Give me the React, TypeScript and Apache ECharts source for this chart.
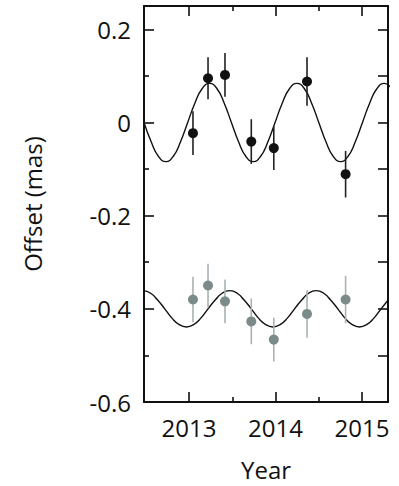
import React, { useEffect, useRef } from 'react';
import * as echarts from 'echarts';

// Observation epochs (years)
const epochs = [2013.046, 2013.22, 2013.416, 2013.72, 2013.98, 2014.364, 2014.81];
// Upper (black) series offsets and 1-sigma errors (mas)
const blackValues = [-0.023, 0.095, 0.102, -0.041, -0.055, 0.088, -0.111];
const blackErrors = [0.047, 0.045, 0.047, 0.048, 0.047, 0.052, 0.05];
// Lower (gray) series offsets and errors (mas)
const grayValues = [-0.38, -0.35, -0.384, -0.427, -0.466, -0.411, -0.38];
const grayErrors = [0.049, 0.047, 0.047, 0.049, 0.047, 0.051, 0.051];

// Model curves
const blackCurveX = [
  2012.48, 2012.564, 2012.648, 2012.733, 2012.817, 2012.901, 2012.985, 2013.069, 2013.153,
  2013.238, 2013.322, 2013.406, 2013.49, 2013.574, 2013.658, 2013.743, 2013.827, 2013.911,
  2013.995, 2014.079, 2014.163, 2014.248, 2014.332, 2014.416, 2014.5, 2014.584, 2014.668,
  2014.753, 2014.837, 2014.921, 2015.005, 2015.089, 2015.173, 2015.258, 2015.342,
];
const blackCurveY = [
  0, -0.042, -0.073, -0.084, -0.073, -0.042, 0, 0.042, 0.073,
  0.084, 0.073, 0.042, 0, -0.042, -0.073, -0.084, -0.073, -0.042,
  0, 0.042, 0.073, 0.084, 0.073, 0.042, 0, -0.042, -0.073,
  -0.084, -0.073, -0.042, 0, 0.042, 0.073, 0.084, 0.073,
];
const grayCurveX = [
  2012.47, 2012.553, 2012.637, 2012.72, 2012.803, 2012.887, 2012.97, 2013.053, 2013.137,
  2013.22, 2013.303, 2013.387, 2013.47, 2013.553, 2013.637, 2013.72, 2013.803, 2013.887,
  2013.97, 2014.053, 2014.137, 2014.22, 2014.303, 2014.387, 2014.47, 2014.553, 2014.637,
  2014.72, 2014.803, 2014.887, 2014.97, 2015.053, 2015.137, 2015.22, 2015.303,
];
const grayCurveY = [
  -0.361, -0.366, -0.381, -0.4, -0.42, -0.434, -0.439, -0.434, -0.42,
  -0.4, -0.381, -0.366, -0.361, -0.366, -0.381, -0.4, -0.42, -0.434,
  -0.439, -0.434, -0.42, -0.4, -0.381, -0.366, -0.361, -0.366, -0.381,
  -0.4, -0.42, -0.434, -0.439, -0.434, -0.42, -0.4, -0.381,
];

// Axis ticks
const xMajorTicks = [2013, 2014, 2015];
const xMinorTicks = [2013.5, 2014.5];
const yMajorTicks = [-0.6, -0.4, -0.2, 0, 0.2];
const yMinorTicks = [-0.5, -0.3, -0.1, 0.1];

const X_MIN = 2012.48;
const X_MAX = 2015.3;
const Y_MIN = -0.6;
const Y_MAX = 0.25;

const FONT = '"Open Sans", sans-serif';
const INK = '#111111';
const FS = 24;

function makeX(position: string, ticks: number[], len: number, main: boolean) {
  return {
    type: 'value',
    position,
    min: X_MIN,
    max: X_MAX,
    axisLine: { show: main, onZero: false, lineStyle: { color: INK, width: 2 } },
    axisTick: { show: true, inside: true, length: len, customValues: ticks, lineStyle: { color: INK, width: 1.6 } },
    axisLabel: main && position === 'bottom'
      ? {
          show: true,
          customValues: ticks,
          margin: 13,
          fontSize: FS,
          fontFamily: FONT,
          color: INK,
          formatter: (v: number) => String(Math.round(v)),
        }
      : { show: false },
    splitLine: { show: false },
    ...(main && position === 'bottom'
      ? {
          name: 'Year',
          nameLocation: 'middle',
          nameGap: 55,
          nameTextStyle: { fontSize: FS, fontFamily: FONT, color: INK },
        }
      : {}),
  };
}

function makeY(position: string, ticks: number[], len: number, main: boolean) {
  return {
    type: 'value',
    position,
    min: Y_MIN,
    max: Y_MAX,
    axisLine: { show: main, onZero: false, lineStyle: { color: INK, width: 2 } },
    axisTick: { show: true, inside: true, length: len, customValues: ticks, lineStyle: { color: INK, width: 1.6 } },
    axisLabel: main && position === 'left'
      ? {
          show: true,
          customValues: ticks,
          margin: 13,
          fontSize: FS,
          fontFamily: FONT,
          color: INK,
          formatter: (v: number) => (Math.abs(v) < 1e-9 ? '0' : String(Math.round(v * 10) / 10)),
        }
      : { show: false },
    splitLine: { show: false },
    ...(main && position === 'left'
      ? {
          name: 'Offset (mas)',
          nameLocation: 'middle',
          nameGap: 100,
          nameRotate: 90,
          nameTextStyle: { fontSize: FS, fontFamily: FONT, color: INK },
        }
      : {}),
  };
}

function errorBarSeries(values: number[], errors: number[], color: string, z: number) {
  return {
    type: 'custom',
    xAxisIndex: 0,
    yAxisIndex: 0,
    z,
    silent: true,
    encode: { x: 0, y: [1, 2] },
    data: epochs.map((x, i) => [x, values[i] - errors[i], values[i] + errors[i]]),
    renderItem: (_params: any, api: any) => {
      const x = api.value(0);
      const p1 = api.coord([x, api.value(1)]);
      const p2 = api.coord([x, api.value(2)]);
      return {
        type: 'line',
        shape: { x1: p1[0], y1: p1[1], x2: p2[0], y2: p2[1] },
        style: { stroke: color, lineWidth: 1.6 },
      };
    },
  };
}

export default function App() {
  const ref = useRef<HTMLDivElement>(null);

  useEffect(() => {
    if (!ref.current) return;
    const chart = echarts.init(ref.current, undefined, { renderer: 'svg' });
    chart.setOption({
      animation: false,
      backgroundColor: '#ffffff',
      grid: { left: 144, right: 11, top: 6, bottom: 82, containLabel: false },
      xAxis: [
        makeX('bottom', xMajorTicks, 10, true),
        makeX('bottom', xMinorTicks, 5, false),
        makeX('top', xMajorTicks, 10, true),
        makeX('top', xMinorTicks, 5, false),
      ],
      yAxis: [
        makeY('left', yMajorTicks, 10, true),
        makeY('left', yMinorTicks, 5, false),
        makeY('right', yMajorTicks, 10, true),
        makeY('right', yMinorTicks, 10, false),
      ],
      series: [
        {
          type: 'line',
          xAxisIndex: 0,
          yAxisIndex: 0,
          data: blackCurveX.map((x, i) => [x, blackCurveY[i]]),
          smooth: true,
          showSymbol: false,
          lineStyle: { color: '#111', width: 1.4 },
          z: 2,
          silent: true,
        },
        {
          type: 'line',
          xAxisIndex: 0,
          yAxisIndex: 0,
          data: grayCurveX.map((x, i) => [x, grayCurveY[i]]),
          smooth: true,
          showSymbol: false,
          lineStyle: { color: '#111', width: 1.4 },
          z: 2,
          silent: true,
        },
        errorBarSeries(blackValues, blackErrors, '#222', 3),
        errorBarSeries(grayValues, grayErrors, '#a9b3b1', 3),
        {
          type: 'scatter',
          xAxisIndex: 0,
          yAxisIndex: 0,
          data: epochs.map((x, i) => [x, blackValues[i]]),
          symbolSize: 10,
          itemStyle: { color: '#111', opacity: 1 },
          z: 4,
        },
        {
          type: 'scatter',
          xAxisIndex: 0,
          yAxisIndex: 0,
          data: epochs.map((x, i) => [x, grayValues[i]]),
          symbolSize: 10,
          itemStyle: { color: '#7b8b89', opacity: 1 },
          z: 4,
        },
      ],
    });
    return () => chart.dispose();
  }, []);

  return (
    <div
      ref={ref}
      style={{ position: 'fixed', left: 0, top: 0, width: 399, height: 486, background: '#fff' }}
    />
  );
}
